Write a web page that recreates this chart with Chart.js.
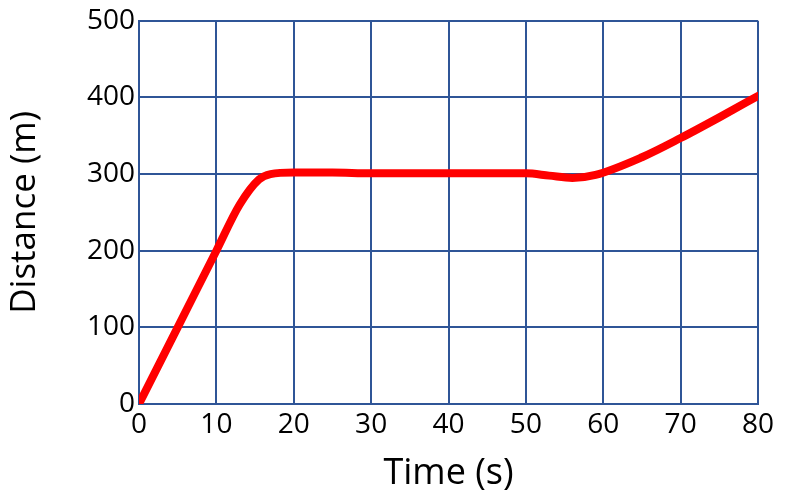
<!DOCTYPE html>
<html>
<head>
<meta charset="utf-8">
<script src="https://cdn.jsdelivr.net/npm/chart.js@4"></script>
<style>
  html, body { margin: 0; padding: 0; background: #fff; }
  #chart { display: block; }
</style>
</head>
<body>
<canvas id="chart" width="800" height="499"></canvas>
<script>
// Valores
const timeValues = [0, 5, 10, 13, 15.5, 17, 20, 25, 30, 40, 50, 53, 56, 59, 65, 70, 75, 80];
const distanceValues = [0, 100, 200, 260, 293, 300, 302, 302, 301, 301, 301, 298, 295, 299, 322, 347, 374, 402];

const xTicks = [0, 10, 20, 30, 40, 50, 60, 70, 80];
const yTicks = [0, 100, 200, 300, 400, 500];

const gridColor = '#2F5597';
const fontFamily = "'Open Sans', 'Liberation Sans', sans-serif";

const points = timeValues.map((t, i) => ({ x: t, y: distanceValues[i] }));

const ctx = document.getElementById('chart').getContext('2d');
new Chart(ctx, {
  type: 'line',
  data: {
    datasets: [{
      label: 'Distance',
      data: points,
      borderColor: '#FF0000',
      borderWidth: 8,
      pointRadius: 0,
      cubicInterpolationMode: 'monotone',
      borderCapStyle: 'round',
      borderJoinStyle: 'round',
      fill: false
    }]
  },
  options: {
    responsive: false,
    animation: false,
    layout: { padding: { left: 0, right: 42, top: 18, bottom: 0 } },
    plugins: {
      legend: { display: false },
      tooltip: { enabled: false }
    },
    scales: {
      x: {
        type: 'linear',
        min: 0,
        max: 80,
        afterBuildTicks: (scale) => { scale.ticks = xTicks.map(v => ({ value: v })); },
        afterFit: (scale) => { scale.height = 95; },
        grid: { color: gridColor, lineWidth: 2, drawTicks: false },
        border: { color: gridColor, width: 2 },
        ticks: { color: '#000', padding: 4, font: { family: fontFamily, size: 28 } },
        title: {
          display: true,
          text: 'Time (s)',
          color: '#000',
          padding: { top: 6 },
          font: { family: fontFamily, size: 36 }
        }
      },
      y: {
        min: 0,
        max: 500,
        afterBuildTicks: (scale) => { scale.ticks = yTicks.map(v => ({ value: v })); },
        afterFit: (scale) => { scale.width = 139; },
        grid: { color: gridColor, lineWidth: 2, drawTicks: false },
        border: { color: gridColor, width: 2 },
        ticks: { color: '#000', padding: 4, font: { family: fontFamily, size: 28 } },
        title: {
          display: true,
          text: 'Distance (m)',
          color: '#000',
          padding: { bottom: 2 },
          font: { family: fontFamily, size: 35 }
        }
      }
    }
  }
});
</script>
</body>
</html>
